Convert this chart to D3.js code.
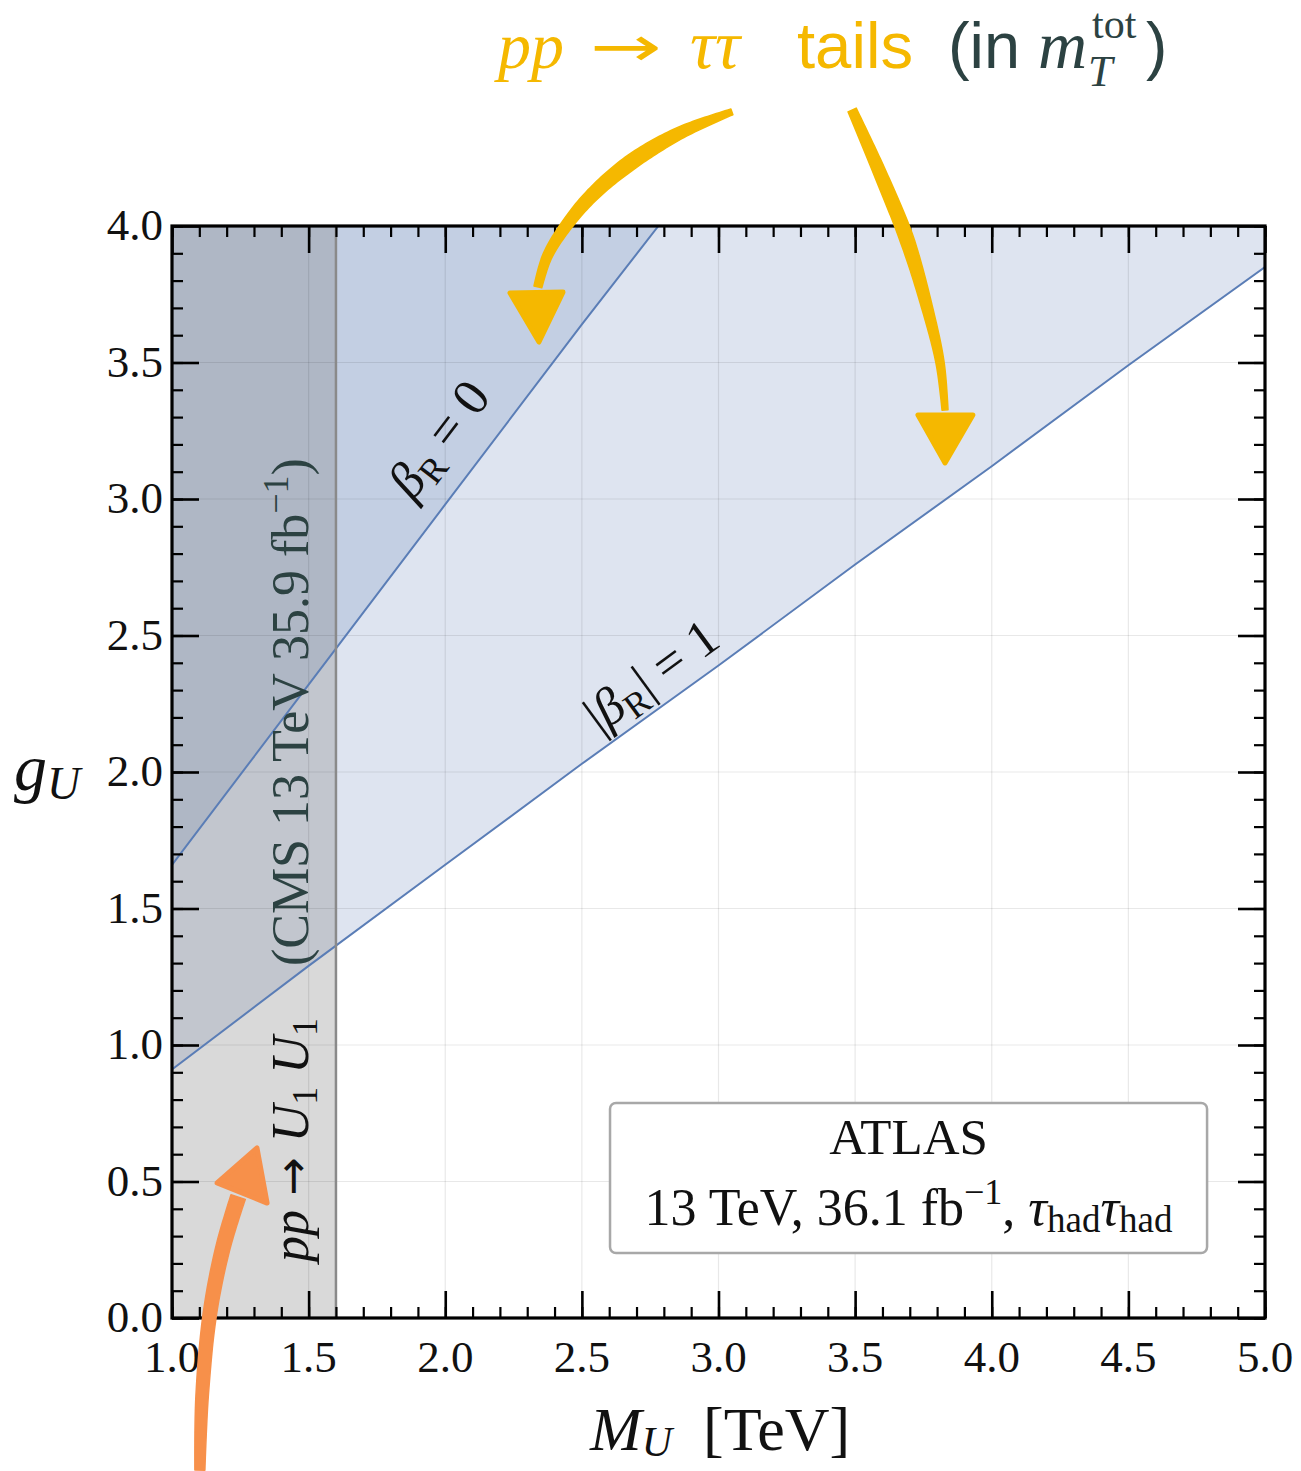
<!DOCTYPE html>
<html>
<head>
<meta charset="utf-8">
<script src="https://cdn.jsdelivr.net/npm/d3@7"></script>
<style>
  html, body { margin: 0; padding: 0; background: #ffffff; }
  svg { display: block; }
</style>
</head>
<body>
<svg id="chart" width="1301" height="1471"></svg>
<script>
// Axis ranges and tick labels
const massDomain = [1.0, 5.0];
const couplingDomain = [0.0, 4.0];
const xTickLabels = ["1.0", "1.5", "2.0", "2.5", "3.0", "3.5", "4.0", "4.5", "5.0"];
const yTickLabels = ["0.0", "0.5", "1.0", "1.5", "2.0", "2.5", "3.0", "3.5", "4.0"];

// pp -> tau tau tails exclusion, beta_R = 0 (M_U in TeV, g_U)
const betaR0Mass = [1.0, 1.5, 2.0, 2.5, 2.78];
const betaR0Coupling = [1.66, 2.32, 2.98, 3.64, 4.0];

// pp -> tau tau tails exclusion, |beta_R| = 1
const betaR1Mass = [1.0, 1.5, 2.0, 2.5, 3.0, 3.5, 4.0, 4.5, 5.0];
const betaR1Coupling = [0.91, 1.29, 1.66, 2.03, 2.39, 2.76, 3.12, 3.49, 3.85];

// pair-production mass limit (CMS 13 TeV 35.9 fb^-1)
const pairLimitMass = 1.6;

// hand-drawn annotation arrows, in (M_U, g_U) units
const arrowTailsA = [[3.049, 4.418], [2.859, 4.341], [2.676, 4.231], [2.530, 4.106], [2.431, 3.985], [2.372, 3.886], [2.339, 3.777]];
const arrowTailsAHead = [[2.237, 3.755], [2.431, 3.758], [2.343, 3.575]];
const arrowTailsB = [[3.489, 4.425], [3.591, 4.194], [3.690, 3.949], [3.763, 3.703], [3.811, 3.498], [3.829, 3.326]];
const arrowTailsBHead = [[3.730, 3.308], [3.931, 3.308], [3.829, 3.132]];
const arrowPair = [[1.102, -0.557], [1.110, -0.289], [1.139, 0.018], [1.187, 0.260], [1.242, 0.443]];
const arrowPairHead = [[1.165, 0.495], [1.311, 0.623], [1.348, 0.421]];

const svg = d3.select("#chart");
const plot = { left: 172, right: 1265, top: 226, bottom: 1318 };
const x = d3.scaleLinear().domain(massDomain).range([plot.left, plot.right]);
const y = d3.scaleLinear().domain(couplingDomain).range([plot.bottom, plot.top]);

const serif = "'Liberation Serif', 'DejaVu Serif', serif";
const sans = "'Liberation Sans', Arial, sans-serif";
const yellow = "#f5b800";
const orange = "#f7904a";
const slate = "#2c4242";
const lineBlue = "#5a7db6";

svg.append("defs").append("clipPath").attr("id", "plotClip")
  .append("rect")
  .attr("x", plot.left).attr("y", plot.top)
  .attr("width", plot.right - plot.left).attr("height", plot.bottom - plot.top);

const body = svg.append("g").attr("clip-path", "url(#plotClip)");

const betaR0 = betaR0Mass.map((m, i) => [m, betaR0Coupling[i]]);
const betaR1 = betaR1Mass.map((m, i) => [m, betaR1Coupling[i]]);

// excluded regions: everything above each line
const areaAbove = d3.area()
  .x(d => x(d[0]))
  .y0(y(couplingDomain[1]))
  .y1(d => y(d[1]));

body.append("path").datum(betaR1).attr("d", areaAbove).attr("fill", "#dee4f0");
body.append("path").datum(betaR0).attr("d", areaAbove).attr("fill", "#c3cfe3");

// pair-production strip
body.append("rect")
  .attr("x", x(massDomain[0])).attr("y", y(couplingDomain[1]))
  .attr("width", x(pairLimitMass) - x(massDomain[0]))
  .attr("height", y(couplingDomain[0]) - y(couplingDomain[1]))
  .attr("fill", "#808080").attr("fill-opacity", 0.3);

// grid
const majorX = d3.range(0, xTickLabels.length).map(i => massDomain[0] + i * 0.5);
const majorY = d3.range(0, yTickLabels.length).map(i => couplingDomain[0] + i * 0.5);
body.selectAll("line.gx").data(majorX).join("line")
  .attr("x1", d => x(d)).attr("x2", d => x(d))
  .attr("y1", plot.top).attr("y2", plot.bottom)
  .attr("stroke", "#000").attr("stroke-opacity", 0.09).attr("stroke-width", 1.2);
body.selectAll("line.gy").data(majorY).join("line")
  .attr("y1", d => y(d)).attr("y2", d => y(d))
  .attr("x1", plot.left).attr("x2", plot.right)
  .attr("stroke", "#000").attr("stroke-opacity", 0.09).attr("stroke-width", 1.2);

// boundary lines
const line = d3.line().x(d => x(d[0])).y(d => y(d[1]));
body.append("path").datum(betaR0).attr("d", line)
  .attr("fill", "none").attr("stroke", lineBlue).attr("stroke-width", 2);
body.append("path").datum(betaR1).attr("d", line)
  .attr("fill", "none").attr("stroke", lineBlue).attr("stroke-width", 2);

body.append("line")
  .attr("x1", x(pairLimitMass)).attr("x2", x(pairLimitMass))
  .attr("y1", plot.top).attr("y2", plot.bottom)
  .attr("stroke", "#8a8a8a").attr("stroke-width", 2.5);

// frame ticks: major every 0.5, minor every 0.1, drawn inward on all sides
function tickAxes() {
  const minorX = d3.range(0, 41).map(i => massDomain[0] + i * 0.1);
  const minorY = d3.range(0, 41).map(i => couplingDomain[0] + i * 0.1);
  const sides = [
    { axis: () => d3.axisBottom(x), tr: `translate(0,${plot.bottom})`, maj: majorX, min: minorX },
    { axis: () => d3.axisTop(x), tr: `translate(0,${plot.top})`, maj: majorX, min: minorX },
    { axis: () => d3.axisLeft(y), tr: `translate(${plot.left},0)`, maj: majorY, min: minorY },
    { axis: () => d3.axisRight(y), tr: `translate(${plot.right},0)`, maj: majorY, min: minorY }
  ];
  sides.forEach(s => {
    const gMin = svg.append("g").attr("transform", s.tr)
      .call(s.axis().tickValues(s.min).tickSize(-11).tickFormat(""));
    gMin.select(".domain").remove();
    gMin.selectAll("line").attr("stroke", "#000").attr("stroke-width", 2.2);
    const gMaj = svg.append("g").attr("transform", s.tr)
      .call(s.axis().tickValues(s.maj).tickSize(-27).tickFormat(""));
    gMaj.select(".domain").remove();
    gMaj.selectAll("line").attr("stroke", "#000").attr("stroke-width", 2.6);
  });
}
tickAxes();

svg.append("rect")
  .attr("x", plot.left).attr("y", plot.top)
  .attr("width", plot.right - plot.left).attr("height", plot.bottom - plot.top)
  .attr("fill", "none").attr("stroke", "#000").attr("stroke-width", 3.2);

// tick labels
svg.selectAll("text.xl").data(xTickLabels).join("text")
  .attr("x", (d, i) => x(majorX[i])).attr("y", plot.bottom + 54)
  .attr("text-anchor", "middle")
  .attr("font-family", serif).attr("font-size", 45).attr("fill", "#111")
  .text(d => d);
svg.selectAll("text.yl").data(yTickLabels).join("text")
  .attr("x", plot.left - 9).attr("y", (d, i) => y(majorY[i]))
  .attr("dy", "0.32em")
  .attr("text-anchor", "end")
  .attr("font-family", serif).attr("font-size", 45).attr("fill", "#111")
  .text(d => d);

// axis titles
const xt = svg.append("text").attr("x", 590).attr("y", 1450)
  .attr("font-family", serif).attr("font-size", 62).attr("fill", "#111");
xt.append("tspan").attr("font-style", "italic").text("M");
xt.append("tspan").attr("font-style", "italic").attr("font-size", 42).attr("dy", 6).text("U");
xt.append("tspan").attr("dy", -6).text("\u2002[TeV]");

const yt = svg.append("text").attr("x", 14).attr("y", 790)
  .attr("font-family", serif).attr("font-size", 66).attr("fill", "#111");
yt.append("tspan").attr("font-style", "italic").text("g");
yt.append("tspan").attr("font-style", "italic").attr("font-size", 46).attr("dy", 9).text("U");

// labels along the boundary lines
function slopeAngle(pts) {
  const a = pts[0], b = pts[pts.length - 1];
  return Math.atan2(y(b[1]) - y(a[1]), x(b[0]) - x(a[0])) * 180 / Math.PI;
}
function betaLabel(pos, pts, parts) {
  const t = svg.append("text")
    .attr("transform", `translate(${x(pos[0])},${y(pos[1])}) rotate(${slopeAngle(pts)})`)
    .attr("text-anchor", "middle").attr("dy", "0.3em")
    .attr("font-family", serif).attr("font-size", 52).attr("fill", "#111");
  parts.forEach(p => {
    const s = t.append("tspan").text(p.t);
    if (p.it) s.attr("font-style", "italic");
    if (p.sub) s.attr("font-size", 36).attr("dy", 9);
    if (p.up) s.attr("dy", -9);
  });
}
betaLabel([1.981, 3.216], betaR0, [
  { t: "\u03b2", it: true }, { t: "R", sub: true }, { t: " = 0", up: true }
]);
betaLabel([2.757, 2.348], betaR1, [
  { t: "|" }, { t: "\u03b2", it: true }, { t: "R", sub: true }, { t: "| = 1", up: true }
]);

// vertical label in the pair-production strip
const strip = svg.append("text")
  .attr("transform", `translate(${x(1.498)},${y(0.205)}) rotate(-90)`)
  .attr("font-family", serif).attr("font-size", 52).attr("fill", "#111");
strip.append("tspan").attr("font-style", "italic").text("pp");
strip.append("tspan").attr("font-family", "'DejaVu Sans', sans-serif").attr("font-size", 46).text(" \u2192 ");
strip.append("tspan").attr("font-style", "italic").text("U");
strip.append("tspan").attr("font-size", 36).attr("dy", 9).text("1");
strip.append("tspan").attr("dy", -9).text(" ");
strip.append("tspan").attr("font-style", "italic").text("U");
strip.append("tspan").attr("font-size", 36).attr("dy", 9).text("1");
strip.append("tspan").attr("dy", -9).attr("fill", slate).text("\u2003(CMS 13 TeV 35.9 fb");
strip.append("tspan").attr("fill", slate).attr("font-size", 36).attr("dy", -20).text("\u22121");
strip.append("tspan").attr("fill", slate).attr("dy", 20).text(")");

// ATLAS legend box
const boxM = [2.603, 4.788], boxG = [0.238, 0.788];
svg.append("rect")
  .attr("x", x(boxM[0])).attr("y", y(boxG[1]))
  .attr("width", x(boxM[1]) - x(boxM[0])).attr("height", y(boxG[0]) - y(boxG[1]))
  .attr("rx", 6).attr("fill", "#fff").attr("stroke", "#a8a8a8").attr("stroke-width", 2.5);
const boxCx = (x(boxM[0]) + x(boxM[1])) / 2;
svg.append("text").attr("x", boxCx).attr("y", 1154).attr("text-anchor", "middle")
  .attr("font-family", serif).attr("font-size", 51).attr("fill", "#111").text("ATLAS");
const l2 = svg.append("text").attr("x", boxCx).attr("y", 1225).attr("text-anchor", "middle")
  .attr("font-family", serif).attr("font-size", 52).attr("fill", "#111");
l2.append("tspan").text("13 TeV, 36.1 fb");
l2.append("tspan").attr("font-size", 36).attr("dy", -21).text("\u22121");
l2.append("tspan").attr("dy", 21).text(", ");
l2.append("tspan").attr("font-style", "italic").text("\u03c4");
l2.append("tspan").attr("font-size", 37).attr("dy", 7).text("had");
l2.append("tspan").attr("dy", -7).attr("font-style", "italic").text("\u03c4");
l2.append("tspan").attr("font-size", 37).attr("dy", 7).text("had");

// title
(function title() {
  const base = 68;
  const put = (txt, px, opt) => {
    const t = svg.append("text").attr("x", px).attr("y", base + (opt.dy || 0))
      .attr("font-family", opt.font || serif).attr("font-size", opt.size || 60)
      .attr("fill", opt.fill).text(txt);
    if (opt.it) t.attr("font-style", "italic");
    if (opt.len) t.attr("textLength", opt.len).attr("lengthAdjust", "spacingAndGlyphs");
    return t;
  };
  put("pp", 498, { it: true, fill: yellow, size: 66 });
  put("\u2192", 590, { font: "'DejaVu Sans', sans-serif", fill: yellow, size: 56, len: 72, dy: -2 });
  put("\u03c4\u03c4", 690, { it: true, fill: yellow, size: 70 });
  put("tails", 797, { font: sans, fill: yellow, size: 64, len: 116 });
  put("(in", 948, { font: sans, fill: slate, size: 64, len: 72 });
  put("m", 1038, { it: true, fill: slate, size: 68 });
  put("T", 1088, { it: true, fill: slate, size: 44, dy: 18 });
  put("tot", 1092, { fill: slate, size: 42, dy: -30 });
  put(")", 1146, { font: sans, fill: slate, size: 64 });
})();

// hand-drawn arrows: tapered stroke plus a filled head
function taperedArrow(pts, head, color, w0, w1, w2) {
  const d = d3.line().x(p => x(p[0])).y(p => y(p[1])).curve(d3.curveCatmullRom.alpha(0.5))(pts);
  const tmp = svg.append("path").attr("d", d).attr("fill", "none");
  const node = tmp.node();
  const L = node.getTotalLength();
  const n = 90, left = [], right = [];
  for (let i = 0; i <= n; i++) {
    const t = i / n;
    const p = node.getPointAtLength(t * L);
    const a = node.getPointAtLength(Math.max(0, t * L - 1));
    const b = node.getPointAtLength(Math.min(L, t * L + 1));
    let dx = b.x - a.x, dy = b.y - a.y;
    const len = Math.hypot(dx, dy) || 1;
    dx /= len; dy /= len;
    const w = t < 0.45 ? w0 + (w1 - w0) * Math.sin((t / 0.45) * Math.PI / 2)
                       : w1 + (w2 - w1) * ((t - 0.45) / 0.55);
    left.push([p.x - dy * w / 2, p.y + dx * w / 2]);
    right.push([p.x + dy * w / 2, p.y - dx * w / 2]);
  }
  tmp.remove();
  const poly = left.concat(right.reverse());
  svg.append("path").attr("d", d3.line().curve(d3.curveLinearClosed)(poly))
    .attr("fill", color).attr("stroke", color).attr("stroke-width", 1.5).attr("stroke-linejoin", "round");
  svg.append("path")
    .attr("d", d3.line().x(p => x(p[0])).y(p => y(p[1])).curve(d3.curveLinearClosed)(head))
    .attr("fill", color).attr("stroke", color).attr("stroke-width", 5).attr("stroke-linejoin", "round");
}
taperedArrow(arrowTailsA, arrowTailsAHead, yellow, 6, 15, 8);
taperedArrow(arrowTailsB, arrowTailsBHead, yellow, 9, 14, 6);
taperedArrow(arrowPair, arrowPairHead, orange, 10, 13, 15);
</script>
</body>
</html>
